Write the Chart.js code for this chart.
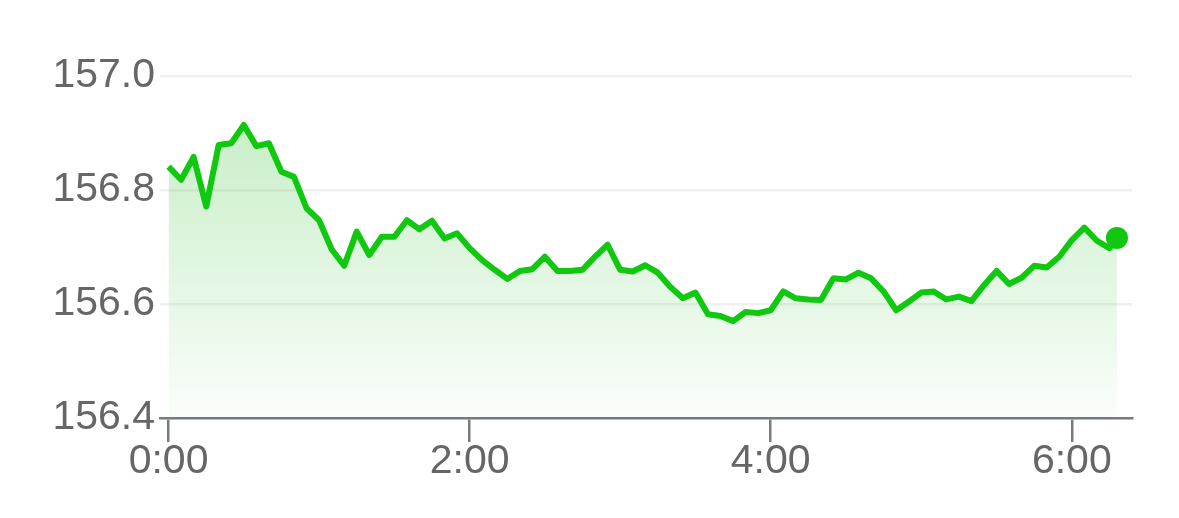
<!DOCTYPE html>
<html lang="en">
<head>
    <meta charset="UTF-8">
    <title>Price chart</title>
    <script src="https://cdn.jsdelivr.net/npm/chart.js@4.4.0/dist/chart.umd.min.js"></script>
    <style>
        html, body { margin: 0; padding: 0; background: #fff; }
        canvas { display: block; }
    </style>
</head>
<body>
    <canvas id="priceChart" width="1179" height="518"></canvas>

    <script>
        // minutes since 0:00 (5 min steps, last point is the live value)
        const times = [
            0, 5, 10, 15, 20, 25, 30, 35, 40, 45,
            50, 55, 60, 65, 70, 75, 80, 85, 90, 95,
            100, 105, 110, 115, 120, 125, 130, 135, 140, 145,
            150, 155, 160, 165, 170, 175, 180, 185, 190, 195,
            200, 205, 210, 215, 220, 225, 230, 235, 240, 245,
            250, 255, 260, 265, 270, 275, 280, 285, 290, 295,
            300, 305, 310, 315, 320, 325, 330, 335, 340, 345,
            350, 355, 360, 365, 370, 375, 378
        ];
        const prices = [
            156.841, 156.818, 156.858, 156.771, 156.879, 156.882, 156.914, 156.877, 156.882, 156.832,
            156.823, 156.768, 156.747, 156.696, 156.667, 156.727, 156.686, 156.718, 156.718, 156.747,
            156.731, 156.746, 156.715, 156.724, 156.698, 156.677, 156.660, 156.644, 156.658, 156.661,
            156.683, 156.658, 156.658, 156.660, 156.683, 156.704, 156.660, 156.657, 156.668, 156.655,
            156.630, 156.610, 156.620, 156.582, 156.579, 156.570, 156.586, 156.584, 156.589, 156.622,
            156.610, 156.608, 156.607, 156.645, 156.643, 156.655, 156.645, 156.622, 156.589, 156.604,
            156.620, 156.622, 156.608, 156.613, 156.605, 156.633, 156.658, 156.635, 156.646, 156.667,
            156.664, 156.683, 156.712, 156.734, 156.711, 156.698, 156.716
        ];
        const xTicks = [0, 120, 240, 360];
        const yTicks = [156.4, 156.6, 156.8, 157.0];

        const green = '#10c810';
        const font = { family: "'Liberation Sans', Arial, sans-serif", size: 41 };

        function fillGradient(context) {
            const area = context.chart.chartArea;
            if (!area) return 'rgba(16,200,16,0.15)';
            const g = context.chart.ctx.createLinearGradient(0, area.top, 0, area.bottom);
            g.addColorStop(0, 'rgba(16,180,16,0.26)');
            g.addColorStop(1, 'rgba(16,180,16,0.02)');
            return g;
        }

        new Chart(document.getElementById('priceChart'), {
            type: 'line',
            data: {
                datasets: [{
                    data: times.map((t, i) => ({ x: t, y: prices[i] })),
                    borderColor: green,
                    borderWidth: 6,
                    borderJoinStyle: 'round',
                    tension: 0,
                    fill: 'start',
                    backgroundColor: fillGradient,
                    pointRadius: ctx => ctx.dataIndex === prices.length - 1 ? 11 : 0,
                    pointBackgroundColor: green,
                    pointBorderWidth: 0
                }]
            },
            options: {
                responsive: false,
                animation: false,
                devicePixelRatio: 1,
                layout: { padding: { top: 76, right: 47, left: 0, bottom: 0 } },
                plugins: { legend: { display: false }, tooltip: { enabled: false } },
                scales: {
                    x: {
                        type: 'linear',
                        min: -3.4,
                        max: 384,
                        afterBuildTicks: s => { s.ticks = xTicks.map(v => ({ value: v })); },
                        afterFit: s => { s.height = 100; },
                        grid: { drawOnChartArea: false, tickLength: 24, color: '#767a82', lineWidth: 2.5 },
                        border: { display: true, color: '#767a82', width: 2.5 },
                        ticks: {
                            font: font,
                            color: '#666',
                            padding: -5,
                            maxRotation: 0,
                            callback: v => Math.floor(v / 60) + ':' + String(v % 60).padStart(2, '0')
                        }
                    },
                    y: {
                        min: 156.4,
                        max: 157.0,
                        afterBuildTicks: s => { s.ticks = yTicks.map(v => ({ value: v })); },
                        afterFit: s => { s.width = 160; },
                        grid: { color: '#f0f0f0', lineWidth: 2.5, drawTicks: false },
                        border: { display: false },
                        ticks: {
                            font: font,
                            color: '#666',
                            padding: 5,
                            callback: v => v.toFixed(1)
                        }
                    }
                }
            }
        });
    </script>
</body>
</html>
